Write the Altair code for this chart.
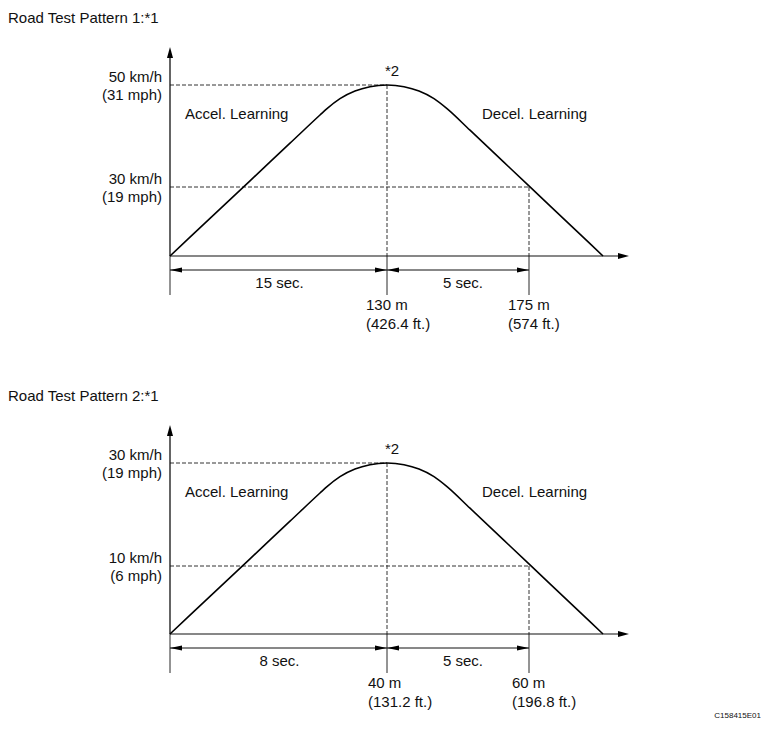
import altair as alt
import pandas as pd

# ---------------- data ----------------
PANEL_TITLES = ["Road Test Pattern 1:*1", "Road Test Pattern 2:*1"]
TOP_SPEED_KMH = ["50 km/h", "30 km/h"]
TOP_SPEED_MPH = ["(31 mph)", "(19 mph)"]
LOW_SPEED_KMH = ["30 km/h", "10 km/h"]
LOW_SPEED_MPH = ["(19 mph)", "(6 mph)"]
ACCEL_TIME = ["15 sec.", "8 sec."]
DECEL_TIME = ["5 sec.", "5 sec."]
PEAK_DIST_M = ["130 m", "40 m"]
PEAK_DIST_FT = ["(426.4 ft.)", "(131.2 ft.)"]
END_DIST_M = ["175 m", "60 m"]
END_DIST_FT = ["(574 ft.)", "(196.8 ft.)"]
PHASE_LABELS = ["Accel. Learning", "Decel. Learning"]
PEAK_NOTE = "*2"
CODE = "C158415E01"

# schematic speed profile
# (diagram units: along-road position, speed level)
PROFILE_X = [0, 40, 80, 120, 150, 157, 170, 185, 200, 217, 234, 249, 264, 277, 300, 340, 380, 420, 433]
PROFILE_Y = [0, 37.6, 75.2, 112.8, 141, 147.4, 157.4, 165, 169.3, 171, 169.3, 165, 157.4, 147.4, 125.8, 88, 50.1, 12.3, 0]
PEAK_X = 217
MARK_X = 359
TOP_LEVEL = 171
LOW_LEVEL = [69, 68]
AXIS_X_END = 459
AXIS_Y_END = 209
DIM_Y = -14
EXT_Y = -39
PEAK_LABEL_X = [196, 198]
END_LABEL_X = [338, 342]

FONT = "Liberation Sans"
INK = "#111111"
FS = 15

X_DOMAIN = [-162, 591]
PANEL_H = [378, 335]

UP = "M0,-1L0.55,1L-0.55,1Z"
RIGHT = "M1,0L-1,0.55L-1,-0.55Z"
LEFT = "M-1,0L1,0.42L1,-0.42Z"
RIGHT_S = "M1,0L-1,0.42L-1,-0.42Z"


def panel(i):
    ydom = [248 - PANEL_H[i], 248]
    xs = alt.Scale(domain=X_DOMAIN, nice=False, zero=False)
    ys = alt.Scale(domain=ydom, nice=False, zero=False)
    low = LOW_LEVEL[i]

    solid = pd.DataFrame([
        dict(x=0, x2=0, y=0, y2=AXIS_Y_END - 4, w=1.3),
        dict(x=0, x2=AXIS_X_END - 6, y=0, y2=0, w=1.1),
        dict(x=0, x2=0, y=0, y2=EXT_Y, w=0.9),
        dict(x=PEAK_X, x2=PEAK_X, y=0, y2=EXT_Y, w=0.9),
        dict(x=MARK_X, x2=MARK_X, y=0, y2=EXT_Y, w=0.9),
        dict(x=0, x2=MARK_X, y=DIM_Y, y2=DIM_Y, w=1.0),
    ])
    dashed = pd.DataFrame([
        dict(x=0, x2=PEAK_X, y=TOP_LEVEL, y2=TOP_LEVEL),
        dict(x=PEAK_X, x2=PEAK_X, y=TOP_LEVEL, y2=0),
        dict(x=0, x2=MARK_X, y=low, y2=low),
        dict(x=MARK_X, x2=MARK_X, y=low, y2=0),
    ])
    curve = pd.DataFrame({"x": PROFILE_X, "y": PROFILE_Y})
    heads = pd.DataFrame([
        dict(x=0, y=AXIS_Y_END - 5.5, s=UP, size=121),
        dict(x=AXIS_X_END - 5.5, y=0, s=RIGHT, size=121),
        dict(x=6, y=DIM_Y, s=LEFT, size=144),
        dict(x=PEAK_X - 6, y=DIM_Y, s=RIGHT_S, size=144),
        dict(x=PEAK_X + 6, y=DIM_Y, s=LEFT, size=144),
        dict(x=MARK_X - 6, y=DIM_Y, s=RIGHT_S, size=144),
    ])

    left_txt = [
        dict(x=-162, y=238, t=PANEL_TITLES[i], fs=FS),
        dict(x=15, y=142, t=PHASE_LABELS[0], fs=FS),
        dict(x=312, y=142, t=PHASE_LABELS[1], fs=FS),
        dict(x=PEAK_LABEL_X[i], y=-49, t=PEAK_DIST_M[i], fs=FS),
        dict(x=PEAK_LABEL_X[i], y=-68, t=PEAK_DIST_FT[i], fs=FS),
        dict(x=END_LABEL_X[i], y=-49, t=END_DIST_M[i], fs=FS),
        dict(x=END_LABEL_X[i], y=-68, t=END_DIST_FT[i], fs=FS),
    ]
    right_txt = [
        dict(x=-8, y=TOP_LEVEL + 8, t=TOP_SPEED_KMH[i], fs=FS),
        dict(x=-8, y=TOP_LEVEL - 10, t=TOP_SPEED_MPH[i], fs=FS),
        dict(x=-8, y=low + 8, t=LOW_SPEED_KMH[i], fs=FS),
        dict(x=-8, y=low - 10, t=LOW_SPEED_MPH[i], fs=FS),
    ]
    if i == 1:
        right_txt.append(dict(x=591, y=-82, t=CODE, fs=8))
    center_txt = [
        dict(x=PEAK_X / 2 + 1, y=-27, t=ACCEL_TIME[i], fs=FS),
        dict(x=(PEAK_X + MARK_X) / 2 + 5, y=-27, t=DECEL_TIME[i], fs=FS),
        dict(x=222, y=185, t=PEAK_NOTE, fs=FS),
    ]

    X = lambda f="x": alt.X(f"{f}:Q", scale=xs, axis=None)
    Y = lambda f="y": alt.Y(f"{f}:Q", scale=ys, axis=None)

    l_solid = alt.Chart(solid).mark_rule(color=INK).encode(
        x=X(), x2="x2:Q", y=Y(), y2="y2:Q",
        strokeWidth=alt.StrokeWidth("w:Q", scale=None))
    l_dash = alt.Chart(dashed).mark_rule(color="#333333", strokeWidth=1, strokeDash=[4, 2]).encode(
        x=X(), x2="x2:Q", y=Y(), y2="y2:Q")
    l_curve = alt.Chart(curve).mark_line(color="#000000", strokeWidth=1.6, interpolate="monotone").encode(
        x=X(), y=Y(), order="x:Q")
    l_heads = alt.Chart(heads).mark_point(filled=True, color="#000000", opacity=1, strokeWidth=0).encode(
        x=X(), y=Y(), shape=alt.Shape("s:N", scale=None, legend=None),
        size=alt.Size("size:Q", scale=None, legend=None))

    def texts(rows, align):
        return alt.Chart(pd.DataFrame(rows)).mark_text(
            align=align, baseline="middle", font=FONT, color=INK).encode(
            x=X(), y=Y(), text="t:N", size=alt.Size("fs:Q", scale=None, legend=None))

    return alt.layer(
        l_dash, l_solid, l_curve, l_heads,
        texts(left_txt, "left"), texts(right_txt, "right"), texts(center_txt, "center"),
    ).properties(width=753, height=PANEL_H[i])


chart = alt.vconcat(panel(0), panel(1), spacing=0).properties(
    padding=0, background="white"
).configure_view(stroke=None)

chart.save("out.html", embed_options={"renderer": "svg", "actions": False})
